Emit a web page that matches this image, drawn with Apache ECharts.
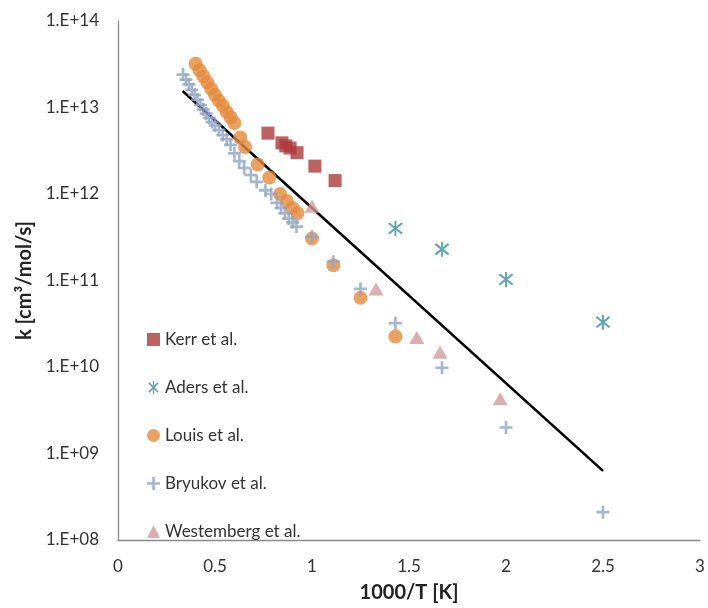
<!DOCTYPE html>
<html>
<head>
<meta charset="utf-8">
<script src="https://cdn.jsdelivr.net/npm/echarts@6/dist/echarts.min.js"></script>
<style>
  html, body { margin: 0; padding: 0; background: #fff; }
  #chart { width: 708px; height: 608px; }
</style>
</head>
<body>
<div id="chart"></div>
<script>
// Rate constants k [cm3/mol/s] against 1000/T [K]
const kerrX = [0.773, 0.845, 0.865, 0.887, 0.923, 1.015, 1.119];
const kerrK = [5.05e12, 3.9e12, 3.6e12, 3.4e12, 3.0e12, 2.1e12, 1.43e12];

const adersX = [1.43, 1.67, 2.0, 2.5];
const adersK = [4.0e11, 2.3e11, 1.03e11, 3.3e10];

const louisX = [0.40, 0.42, 0.44, 0.46, 0.48, 0.50, 0.52, 0.54, 0.56, 0.58, 0.60, 0.63,
                0.655, 0.72, 0.78, 0.835, 0.87, 0.90, 0.925, 1.0, 1.11, 1.25, 1.43];
const louisK = [3.2e13, 2.7e13, 2.3e13, 1.95e13, 1.65e13, 1.4e13, 1.2e13, 1.05e13, 8.9e12, 7.7e12, 6.6e12, 4.5e12,
                3.5e12, 2.2e12, 1.55e12, 1.0e12, 8.3e11, 6.9e11, 6.0e11, 3.05e11, 1.5e11, 6.3e10, 2.25e10];

const bryukovX = [0.335, 0.35, 0.365, 0.38, 0.395, 0.41, 0.425, 0.44, 0.455, 0.47, 0.485, 0.50,
                  0.52, 0.54, 0.56, 0.58, 0.60, 0.625, 0.65, 0.685, 0.715, 0.76, 0.79, 0.82,
                  0.84, 0.86, 0.88, 0.90, 0.92, 1.0, 1.11, 1.25, 1.43, 1.67, 2.0, 2.5];
const bryukovK = [2.4e13, 2.1e13, 1.85e13, 1.6e13, 1.4e13, 1.23e13, 1.07e13, 9.5e12, 8.5e12, 7.6e12, 6.8e12, 6.2e12,
                  5.5e12, 4.8e12, 4.3e12, 3.7e12, 2.95e12, 2.4e12, 2.0e12, 1.66e12, 1.38e12, 1.1e12, 1.0e12, 7.9e11,
                  6.9e11, 6.0e11, 5.2e11, 4.7e11, 4.2e11, 3.2e11, 1.65e11, 8.0e10, 3.2e10, 9.8e9, 2.0e9, 2.1e8];

const westX = [1.0, 1.33, 1.54, 1.66, 1.97];
const westK = [7.2e11, 8.0e10, 2.2e10, 1.48e10, 4.3e9];

// Arrhenius fit, end points
const fitX = [0.333, 2.5];
const fitK = [1.55e13, 6.3e8];

const xTicks = { min: 0, max: 3, step: 0.5 };
const yRange = { min: 1e8, max: 1e14 };

const names = ['Kerr et al.', 'Aders et al.', 'Louis et al.', 'Bryukov et al.', 'Westemberg et al.'];

const zip = (xs, ys) => xs.map((x, i) => [x, ys[i]]);

// marker outlines drawn as filled shapes
const plusPath = 'path://M4,0H6V4H10V6H6V10H4V6H0V4H4Z';
const starPath = 'path://M9,0H11V20H9Z M3.9,2.1L17.9,16.1L16.1,17.9L2.1,3.9Z M17.9,3.9L3.9,17.9L2.1,16.1L16.1,2.1Z';

const font = 'Lato, "Open Sans", sans-serif';

const chart = echarts.init(document.getElementById('chart'), null, { renderer: 'canvas' });

chart.setOption({
  animation: false,
  backgroundColor: '#ffffff',
  grid: { left: 118, right: 8, top: 21, bottom: 61, containLabel: false },
  legend: {
    orient: 'vertical',
    left: 142,
    top: 326,
    itemWidth: 13,
    itemHeight: 13,
    itemGap: 31,
    data: names,
    textStyle: { fontFamily: font, fontSize: 17, lineHeight: 14, color: '#333' }
  },
  xAxis: {
    type: 'value',
    min: xTicks.min,
    max: xTicks.max,
    interval: xTicks.step,
    name: '1000/T [K]',
    nameLocation: 'middle',
    nameGap: 43,
    nameTextStyle: { fontFamily: font, fontSize: 20, fontWeight: 'bold', color: '#222' },
    axisLine: { show: true, lineStyle: { color: '#8a8a8a', width: 1.3 } },
    axisTick: { show: false },
    splitLine: { show: false },
    axisLabel: { fontFamily: font, fontSize: 17, color: '#333', margin: 18 }
  },
  yAxis: {
    type: 'log',
    logBase: 10,
    min: yRange.min,
    max: yRange.max,
    name: 'k [cm³/mol/s]',
    nameLocation: 'middle',
    nameGap: 82,
    nameTextStyle: { fontFamily: font, fontSize: 20, fontWeight: 'bold', color: '#222' },
    axisLine: { show: true, lineStyle: { color: '#8a8a8a', width: 1.3 } },
    axisTick: { show: false },
    splitLine: { show: false },
    minorSplitLine: { show: false },
    axisLabel: {
      fontFamily: font, fontSize: 17, color: '#333', margin: 19,
      formatter: v => {
        const e = Math.round(Math.log10(v));
        return '1.E+' + (e < 10 ? '0' : '') + e;
      }
    }
  },
  series: [
    {
      name: 'fit', type: 'line', data: zip(fitX, fitK), showSymbol: false, symbol: 'none',
      lineStyle: { color: '#000', width: 2.6 }, z: 1, silent: true
    },
    {
      name: names[0], type: 'scatter', data: zip(kerrX, kerrK), symbol: 'rect', symbolSize: 13,
      itemStyle: { color: '#AE3A3A' }, z: 2
    },
    {
      name: names[1], type: 'scatter', data: zip(adersX, adersK), symbol: starPath, symbolSize: 15,
      itemStyle: { color: '#3D8FA3' }, z: 3
    },
    {
      name: names[2], type: 'scatter', data: zip(louisX, louisK), symbol: 'circle', symbolSize: 14,
      itemStyle: { color: '#E5893B' }, z: 4
    },
    {
      name: names[3], type: 'scatter', data: zip(bryukovX, bryukovK), symbol: plusPath, symbolSize: 13,
      itemStyle: { color: '#8FA4C8' }, z: 5
    },
    {
      name: names[4], type: 'scatter', data: zip(westX, westK), symbol: 'triangle', symbolSize: [15, 13],
      itemStyle: { color: '#D49A9B' }, z: 6
    }
  ]
});
</script>
</body>
</html>
